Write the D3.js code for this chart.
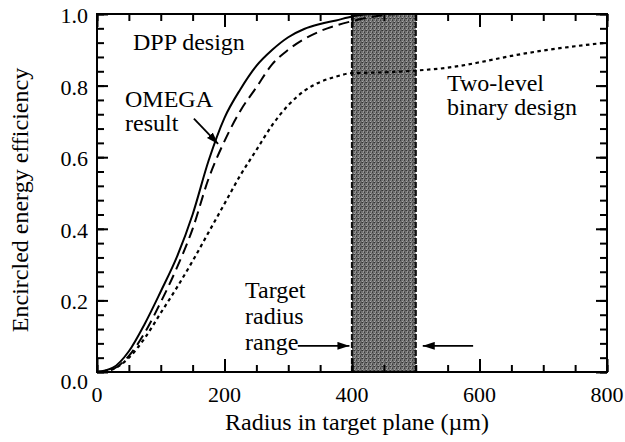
<!DOCTYPE html>
<html>
<head>
<meta charset="utf-8">
<script src="https://cdn.jsdelivr.net/npm/d3@7"></script>
<style>
  html, body { margin: 0; padding: 0; background: #fff; }
  svg { display: block; }
  svg text { font-family: "Liberation Serif", "Tinos", "Times New Roman", serif !important; }
</style>
</head>
<body>
<svg id="chart" width="625" height="442"></svg>
<script>
// Radius samples (µm) and encircled-energy efficiency for each design
const radius = [0, 25, 50, 75, 100, 125, 150, 175, 200, 225, 250, 275, 300, 325, 350,
                375, 400, 425, 450, 475, 500, 550, 600, 650, 700, 750, 800];
const dppDesign = [0, 0.012, 0.058, 0.135, 0.225, 0.32, 0.44, 0.59, 0.71, 0.79, 0.855, 0.9, 0.935, 0.958, 0.972,
                   0.982, 0.993, 0.999, 1, 1, 1, 1, 1, 1, 1, 1, 1];
const omegaResult = [0, 0.008, 0.045, 0.11, 0.195, 0.29, 0.40, 0.54, 0.645, 0.73, 0.795, 0.86, 0.9, 0.93, 0.952,
                     0.968, 0.98, 0.99, 0.997, 1, 1, 1, 1, 1, 1, 1, 1];
const twoLevelBinary = [0, 0.008, 0.04, 0.095, 0.165, 0.235, 0.31, 0.39, 0.47, 0.55, 0.62, 0.69, 0.745, 0.785, 0.81,
                        0.825, 0.835, 0.836, 0.837, 0.839, 0.842, 0.85, 0.865, 0.883, 0.898, 0.91, 0.92];

// Target radius range (µm)
const targetRange = [400, 500];

// Axis ticks
const xMajorTicks = [0, 200, 400, 600, 800];
const xMinorTicks = [0, 50, 100, 150, 200, 250, 300, 350, 400, 450, 500, 550, 600, 650, 700, 750, 800];
const yMajorTicks = [0, 0.2, 0.4, 0.6, 0.8, 1.0];
const yMinorTicks = [0, 0.04, 0.08, 0.12, 0.16, 0.2, 0.24, 0.28, 0.32, 0.36, 0.4, 0.44, 0.48, 0.52,
                     0.56, 0.6, 0.64, 0.68, 0.72, 0.76, 0.8, 0.84, 0.88, 0.92, 0.96, 1.0];

const svg = d3.select("#chart");
const plotLeft = 97, plotRight = 607, plotTop = 14, plotBottom = 372;

const x = d3.scaleLinear().domain([0, 800]).range([plotLeft, plotRight]);
const y = d3.scaleLinear().domain([0, 1]).range([plotBottom, plotTop]);

// Grainy dark-grey fill for the target band
const defs = svg.append("defs");
const pat = defs.append("pattern")
  .attr("id", "grain").attr("patternUnits", "userSpaceOnUse")
  .attr("width", 4).attr("height", 4);
pat.append("rect").attr("width", 4).attr("height", 4).attr("fill", "#6f6f6f");
[[0, 0, "#3a3a3a"], [2, 1, "#a8a8a8"], [1, 2, "#4a4a4a"], [3, 3, "#9c9c9c"], [3, 0, "#8a8a8a"], [0, 3, "#555"], [2, 2, "#333"]]
  .forEach(([px, py, c]) => pat.append("rect").attr("x", px).attr("y", py)
    .attr("width", 1).attr("height", 1).attr("fill", c));

svg.append("rect")
  .attr("x", x(targetRange[0])).attr("y", y(1))
  .attr("width", x(targetRange[1]) - x(targetRange[0]))
  .attr("height", y(0) - y(1))
  .attr("fill", "url(#grain)");
svg.append("g").selectAll("line").data(targetRange).join("line")
  .attr("x1", d => x(d)).attr("x2", d => x(d)).attr("y1", y(1)).attr("y2", y(0))
  .attr("stroke", "#111").attr("stroke-width", 2.2)
  .attr("stroke-dasharray", "6,2");

// Curves
const line = ys => d3.line()
  .x((d, i) => x(radius[i]))
  .y(d => y(d))
  .curve(d3.curveMonotoneX)(ys);

svg.append("path").attr("d", line(twoLevelBinary))
  .attr("fill", "none").attr("stroke", "#000").attr("stroke-width", 2.2)
  .attr("stroke-dasharray", "3.5,3.5");
svg.append("path").attr("d", line(omegaResult))
  .attr("fill", "none").attr("stroke", "#000").attr("stroke-width", 2)
  .attr("stroke-dasharray", "11,6");
svg.append("path").attr("d", line(dppDesign))
  .attr("fill", "none").attr("stroke", "#000").attr("stroke-width", 2);

// Inward ticks on all four sides, built with d3 axes
function tickAxis(gen, scale, values, size, tx, ty) {
  const g = svg.append("g").attr("transform", `translate(${tx},${ty})`)
    .call(gen(scale).tickValues(values).tickSizeInner(-size).tickSizeOuter(0).tickPadding(0)
      .tickFormat(() => ""));
  g.select(".domain").remove();
  g.selectAll(".tick line").attr("stroke", "#000").attr("stroke-width", 2);
}
tickAxis(d3.axisBottom, x, xMinorTicks, 7, 0, plotBottom);
tickAxis(d3.axisBottom, x, xMajorTicks, 13, 0, plotBottom);
tickAxis(d3.axisTop, x, xMinorTicks, 7, 0, plotTop);
tickAxis(d3.axisTop, x, xMajorTicks, 13, 0, plotTop);
tickAxis(d3.axisLeft, y, yMinorTicks, 7, plotLeft, 0);
tickAxis(d3.axisLeft, y, yMajorTicks, 11, plotLeft, 0);
tickAxis(d3.axisRight, y, yMinorTicks, 7, plotRight, 0);
tickAxis(d3.axisRight, y, yMajorTicks, 11, plotRight, 0);

// Frame
svg.append("rect")
  .attr("x", plotLeft).attr("y", plotTop)
  .attr("width", plotRight - plotLeft).attr("height", plotBottom - plotTop)
  .attr("fill", "none").attr("stroke", "#000").attr("stroke-width", 2);

// Tick labels
svg.append("g").selectAll("text").data(xMajorTicks).join("text")
  .attr("x", d => x(d)).attr("y", 402)
  .attr("text-anchor", "middle").attr("font-size", 22)
  .text(d => d);
svg.append("g").selectAll("text").data(yMajorTicks).join("text")
  .attr("x", 88).attr("y", d => y(d) + (d === 0 ? 17 : 9))
  .attr("text-anchor", "end").attr("font-size", 22)
  .text(d => d.toFixed(1));

// Axis titles
svg.append("text")
  .attr("x", 357).attr("y", 430)
  .attr("text-anchor", "middle").attr("font-size", 24)
  .text("Radius in target plane (\u00b5m)");
svg.append("text")
  .attr("transform", "translate(28,200) rotate(-90)")
  .attr("text-anchor", "middle").attr("font-size", 24)
  .text("Encircled energy efficiency");

// Arrowhead marker
defs.append("marker")
  .attr("id", "head").attr("viewBox", "0 0 12 8")
  .attr("refX", 12).attr("refY", 4)
  .attr("markerWidth", 12).attr("markerHeight", 8)
  .attr("markerUnits", "userSpaceOnUse")
  .attr("orient", "auto")
  .append("path").attr("d", "M0,0 L12,4 L0,8 Z").attr("fill", "#000");

function arrow(r0, v0, r1, v1) {
  svg.append("line")
    .attr("x1", x(r0)).attr("y1", y(v0))
    .attr("x2", x(r1)).attr("y2", y(v1))
    .attr("stroke", "#000").attr("stroke-width", 1.8)
    .attr("marker-end", "url(#head)");
}
arrow(152, 0.708, 190, 0.637);
arrow(315, 0.073, 396, 0.073);
arrow(590, 0.073, 511, 0.073);

// Annotations, one text element per line
function label(px, py, lines, lh) {
  lines.forEach((s, i) => svg.append("text")
    .attr("x", px).attr("y", py + i * lh)
    .attr("font-size", 24)
    .text(s));
}
label(133, 50, ["DPP design"], 0);
label(125, 107, ["OMEGA", "result"], 24);
label(447, 91, ["Two-level", "binary design"], 24);
label(245, 298, ["Target", "radius", "range"], 26);
</script>
</body>
</html>
